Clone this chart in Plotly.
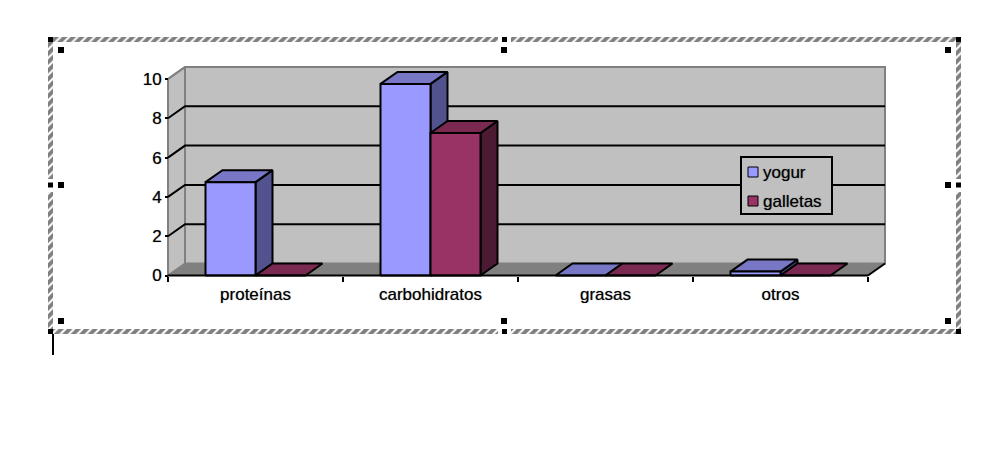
import plotly.graph_objects as go

categories = ["proteínas", "carbohidratos", "grasas", "otros"]
yogur = [4.75, 9.75, 0, 0.2]
galletas = [0, 7.25, 0, 0]
y_ticks = [0, 2, 4, 6, 8, 10]

W, H = 999, 452
L, R, T, B = 168, 868, 79, 275.5
XU = (R - L) / len(categories)   # px per category
YU = (B - T) / 10                # px per y unit
FONT = "Liberation Sans"
FS = 17
SHADOW = "0 0 1px rgba(0,0,0,0.55)"

def xd(px): return (px - L) / XU
def yd(px): return (B - px) / YU
def xp(px): return px / W
def yp(px): return 1 - px / H

DX = 17 / XU      # depth offset in data units
DY = 12 / YU
BAR_W = 1 / 3.5
GAP = 0.75 / 3.5

WALL = "#C0C0C0"
GREY = "#808080"
series = [
    ("yogur", yogur, "#9999FF", "#7777C6", "#52528F"),
    ("galletas", galletas, "#993366", "#7A2950", "#4D1A33"),
]

fig = go.Figure()

def poly(xs, ys, fill, line=None, lw=2):
    fig.add_trace(go.Scatter(
        x=list(xs) + [xs[0]], y=list(ys) + [ys[0]], mode="lines", fill="toself",
        fillcolor=fill, line=dict(color=line or fill, width=lw if line else 0),
        hoverinfo="skip", showlegend=False))

def seg(xs, ys, color="black", w=2):
    fig.add_trace(go.Scatter(x=xs, y=ys, mode="lines", line=dict(color=color, width=w),
                             hoverinfo="skip", showlegend=False))

n = len(categories)
ymax = y_ticks[-1]
# back wall, side wall, floor
poly([DX, n + DX, n + DX, DX], [DY, DY, ymax + DY, ymax + DY], WALL, GREY, 2)
poly([0, DX, DX, 0], [0, DY, ymax + DY, ymax], WALL, GREY, 2)
poly([0, n, n + DX, DX], [0, 0, DY, DY], GREY)
seg([n, n + DX], [0, DY])
# gridlines on walls
for t in y_ticks[1:-1]:
    seg([0, DX, n + DX], [t, t + DY, t + DY])
seg([0, DX], [ymax, ymax + DY], GREY)

# 3D bars
for i in range(n):
    for j, (name, vals, front, top, side) in enumerate(series):
        v = vals[i]
        x0 = i + GAP + j * BAR_W
        x1 = x0 + BAR_W
        if v > 0:
            poly([x1, x1 + DX, x1 + DX, x1], [0, DY, v + DY, v], side, "black")
        poly([x0, x1, x1 + DX, x0 + DX], [v, v, v + DY, v + DY], top, "black")
        if v > 0:
            poly([x0, x1, x1, x0], [0, 0, v, v], front, "black")

# front axis line
seg([0, n], [0, 0])

# selection frame (hatched)
PAT = dict(shape="/", size=6, solidity=0.65, fgcolor="black", bgcolor="white")
for (a, b, c, d) in [(48, 37, 961, 42), (48, 329, 961, 334), (48, 37, 53, 334), (956, 37, 961, 334)]:
    fig.add_trace(go.Scatter(
        x=[xd(a), xd(c), xd(c), xd(a), xd(a)], y=[yd(b), yd(b), yd(d), yd(d), yd(b)],
        mode="lines", fill="toself", fillpattern=PAT, fillcolor="white", line=dict(width=0),
        hoverinfo="skip", showlegend=False))

shapes = []
def rect(a, b, c, d, fill, line=None, lw=0):
    shapes.append(dict(type="rect", xref="paper", yref="paper", layer="above",
                       x0=xp(a), x1=xp(c), y0=yp(b), y1=yp(d), fillcolor=fill,
                       line=dict(color=line or fill, width=lw)))

# gaps in the frame round its middle handles
rect(498, 36, 511, 43, "white")
rect(498, 328, 511, 335, "white")
rect(47, 179, 54, 192, "white")
rect(955, 179, 962, 192, "white")
# handles
for cx in (61, 504, 948):
    for cy in (50, 185, 321):
        if cx == 504 and cy == 185:
            continue
        rect(cx - 3, cy - 3, cx + 3, cy + 3, "black")
for cx, cy in [(50.5, 39.5), (504.5, 39.5), (958.5, 39.5), (50.5, 185), (958.5, 185), (50.5, 331.5), (504.5, 331.5), (958.5, 331.5)]:
    rect(cx - 2.5, cy - 2.5, cx + 2.5, cy + 2.5, "black")
# text cursor
rect(52, 334, 54, 355, "black")

# legend
rect(741, 157, 832, 214, WALL, "black", 2)
rect(748, 167, 758, 177, series[0][2], "black", 1)
rect(748, 196, 758, 206, series[1][2], "black", 1)
lfont = dict(family=FONT, size=FS, color="black", shadow=SHADOW)
anns = [
    dict(xref="paper", yref="paper", x=xp(761), y=yp(172.5), text=series[0][0], showarrow=False,
         xanchor="left", yanchor="middle", font=lfont),
    dict(xref="paper", yref="paper", x=xp(761), y=yp(201.5), text=series[1][0], showarrow=False,
         xanchor="left", yanchor="middle", font=lfont),
]

fig.update_layout(
    width=W, height=H, margin=dict(l=0, r=0, t=0, b=0, autoexpand=False),
    paper_bgcolor="white", plot_bgcolor="rgba(0,0,0,0)", showlegend=False,
    shapes=shapes, annotations=anns, font=dict(family=FONT, size=FS, color="black"),
    xaxis=dict(range=[xd(0), xd(W)], domain=[0, 1], anchor="free", position=yp(B),
               tickmode="array", tickvals=[i + 0.5 for i in range(n)],
               ticktext=categories, ticks="", showgrid=False, zeroline=False, showline=False,
               ticklabelstandoff=6, tickfont=dict(family=FONT, size=FS, shadow=SHADOW),
               minor=dict(tickmode="array", tickvals=list(range(n + 1)), ticks="outside",
                          ticklen=5, tickwidth=2, tickcolor="black", showgrid=False)),
    yaxis=dict(range=[yd(H), yd(0)], domain=[0, 1], anchor="free", position=xp(L),
               tickmode="array", tickvals=y_ticks, ticks="outside", ticklen=3,
               tickwidth=2, tickcolor="black", showgrid=False, zeroline=False, showline=False,
               tickfont=dict(family=FONT, size=FS, shadow=SHADOW)),
)

fig.write_html("out.html", post_script="document.body.style.margin='0';",
               config={"displayModeBar": False})
